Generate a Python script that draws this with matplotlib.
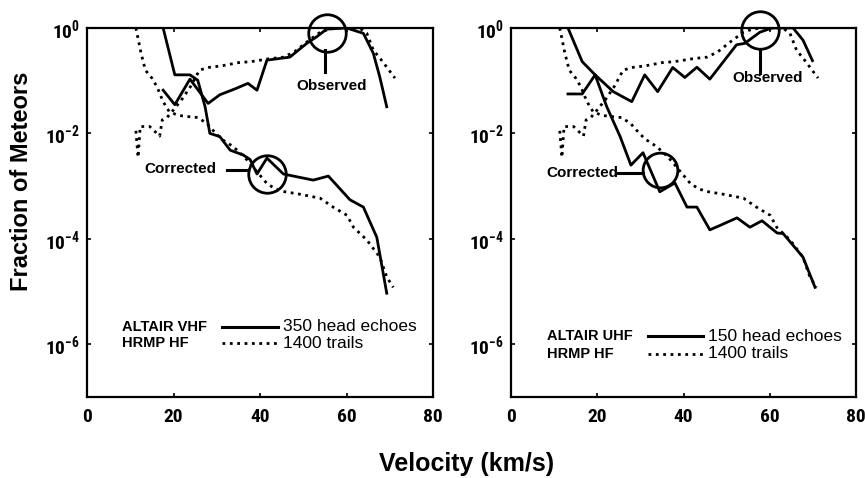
import matplotlib
matplotlib.use("Agg")
import matplotlib.pyplot as plt
from matplotlib import font_manager

# narrow bold font for the tick numbers if one is around, else plain bold
installed = {f.name for f in font_manager.fontManager.ttflist}
tick_font = "Liberation Sans"
for name in ["Liberation Sans Narrow", "DejaVu Sans Condensed", "Roboto Condensed"]:
    if name in installed:
        tick_font = name
        break

plt.rcParams["font.family"] = ["Liberation Sans", "DejaVu Sans"]
plt.rcParams["mathtext.fontset"] = "custom"
plt.rcParams["mathtext.rm"] = tick_font + ":bold"
plt.rcParams["mathtext.it"] = tick_font + ":bold"
plt.rcParams["mathtext.bf"] = tick_font + ":bold"

# ---- data (velocity km/s, fraction of meteors) ----
# HRMP HF, 1400 trails (same curves in both panels)
trail_obs_v = [11.3, 11.8, 12.3, 14.5, 16.8, 17.4, 18.5, 20.0, 22.0, 24.0, 26.0, 28.0,
               31.0, 35.0, 38.0, 42.0, 45.5, 48.0, 50.8, 53.9, 56.0, 58.0, 63.0,
               64.7, 66.2, 68.0, 71.2]
trail_obs = [0.0112, 0.0035, 0.0135, 0.0135, 0.0089, 0.018, 0.02, 0.028, 0.045, 0.079,
             0.158, 0.178, 0.19, 0.22, 0.23, 0.26, 0.28, 0.355, 0.54, 0.83, 0.95,
             1.0, 1.0, 0.79, 0.38, 0.25, 0.112]

trail_cor_v = [11.3, 12.5, 13.5, 15.0, 16.2, 17.6, 19.0, 21.0, 23.0, 25.6, 27.7, 29.1,
               31.0, 33.8, 36.5, 39.0, 41.6, 43.5, 45.4, 49.3, 53.9, 56.9, 60.1,
               61.6, 64.7, 67.7, 69.3, 70.8]
trail_cor = [1.0, 0.33, 0.158, 0.112, 0.076, 0.04, 0.026, 0.022, 0.021, 0.02, 0.0155,
             0.0115, 0.0079, 0.0056, 0.0035, 0.002, 0.00112, 0.00089, 0.00079, 0.0007,
             0.00059, 0.0004, 0.00028, 0.000166, 9.5e-5, 4.5e-5, 1.9e-5, 1.2e-5]

# ALTAIR VHF, 350 head echoes
vhf_obs_v = [17.6, 20.3, 23.8, 28.0, 30.7, 34.6, 37.2, 39.3, 41.6, 46.9, 50.8, 53.1,
             55.4, 60.0, 63.9, 66.2, 67.7, 69.3]
vhf_obs = [0.066, 0.035, 0.107, 0.037, 0.054, 0.072, 0.089, 0.066, 0.245, 0.28, 0.51,
           0.68, 0.95, 1.0, 0.79, 0.33, 0.117, 0.032]

vhf_cor_v = [17.6, 20.3, 23.8, 25.6, 27.3, 28.4, 30.7, 33.1, 36.1, 37.7, 39.3, 41.6,
             45.4, 46.9, 52.3, 55.8, 60.8, 63.9, 67.0, 69.3]
vhf_cor = [1.0, 0.129, 0.129, 0.102, 0.032, 0.01, 0.0087, 0.0048, 0.0039, 0.0032,
           0.0017, 0.0034, 0.0017, 0.0016, 0.0013, 0.00155, 0.00055, 0.0004,
           0.000107, 9.3e-6]

# ALTAIR UHF, 150 head echoes
uhf_obs_v = [13.2, 16.5, 19.5, 23.7, 28.0, 31.0, 34.0, 37.5, 40.3, 43.1, 46.1, 52.3,
             54.2, 57.7, 60.5, 65.4, 67.7, 69.9]
uhf_obs = [0.056, 0.056, 0.129, 0.062, 0.04, 0.129, 0.062, 0.178, 0.115, 0.18, 0.107,
           0.48, 0.51, 0.83, 1.0, 1.0, 0.59, 0.24]

uhf_cor_v = [13.2, 16.5, 19.5, 22.2, 25.3, 27.8, 30.6, 34.5, 38.0, 40.8, 43.1, 46.1,
             48.5, 52.4, 55.4, 58.2, 61.7, 63.1, 67.7, 70.5]
uhf_cor = [1.0, 0.23, 0.129, 0.032, 0.0087, 0.0025, 0.0043, 0.00078, 0.00115, 0.0004,
           0.0004, 0.000148, 0.00018, 0.00025, 0.000166, 0.00022, 0.000129,
           0.000126, 4.5e-5, 1.2e-5]

xticks = [0, 20, 40, 60, 80]
yticks = [1, 1e-2, 1e-4, 1e-6]
ytick_labels = [r"$10^{0}$", r"$10^{-2}$", r"$10^{-4}$", r"$10^{-6}$"]

radar_names = ["ALTAIR VHF", "ALTAIR UHF"]
echo_labels = ["350 head echoes", "150 head echoes"]
trail_label = "1400 trails"

fig = plt.figure(figsize=(8.65, 4.78), dpi=100)
ax1 = fig.add_axes([0.1006, 0.1695, 0.400, 0.772])
ax2 = fig.add_axes([0.5908, 0.1695, 0.3988, 0.772])

panels = [
    (ax1, vhf_obs_v, vhf_obs, vhf_cor_v, vhf_cor),
    (ax2, uhf_obs_v, uhf_obs, uhf_cor_v, uhf_cor),
]

for i, (ax, ov, o, cv, c) in enumerate(panels):
    ax.plot(trail_obs_v, trail_obs, color="k", ls=":", lw=2)
    ax.plot(trail_cor_v, trail_cor, color="k", ls=":", lw=2)
    ax.plot(ov, o, color="k", lw=2)
    ax.plot(cv, c, color="k", lw=2)

    ax.set_yscale("log")
    ax.set_xlim(0, 80)
    ax.set_ylim(1e-7, 1)
    ax.set_xticks(xticks)
    ax.set_yticks(yticks)
    ax.set_yticklabels(ytick_labels)
    ax.minorticks_off()
    ax.tick_params(direction="in", top=True, right=True, length=3, width=1.2)
    ax.tick_params(axis="x", pad=8, labelsize=14)
    ax.tick_params(axis="y", pad=5, labelsize=14)
    for lab in ax.get_xticklabels():
        lab.set_fontfamily(tick_font)
        lab.set_fontweight("bold")
    for sp in ax.spines.values():
        sp.set_linewidth(1.6)

    # legend drawn by hand like the original
    if i == 0:
        ly1, ly2 = 0.19, 0.146
        lx0, lx1, tx = 0.39, 0.552, 0.566
        nx = 0.101
    else:
        ly1, ly2 = 0.165, 0.117
        lx0, lx1, tx = 0.397, 0.557, 0.571
        nx = 0.104
    ax.text(nx, ly1, radar_names[i], transform=ax.transAxes, fontsize=10.5,
            fontweight="bold", va="center")
    ax.text(nx, ly2, "HRMP HF", transform=ax.transAxes, fontsize=10.5,
            fontweight="bold", va="center")
    ax.plot([lx0, lx1], [ly1, ly1], color="k", lw=2.2, transform=ax.transAxes)
    ax.plot([lx0, lx1], [ly2, ly2], color="k", lw=2, ls=":", transform=ax.transAxes)
    ax.text(tx, ly1, echo_labels[i], transform=ax.transAxes, fontsize=12.5,
            va="center")
    ax.text(tx, ly2, trail_label, transform=ax.transAxes, fontsize=12.5,
            va="center")

# circles + pointers
def callout(ax, center, ms, px, py, label, lxy):
    ax.plot([center[0]], [center[1]], "o", ms=ms, mfc="none", mec="k", mew=2,
            clip_on=False)
    ax.plot(px, py, color="k", lw=2.2)
    ax.text(lxy[0], lxy[1], label, ha="center", va="center", fontsize=11,
            fontweight="bold")

callout(ax1, (55.5, 0.79), 27, [55.1, 55.1], [0.38, 0.145], "Observed", (56.6, 0.079))
callout(ax1, (41.6, 0.0017), 27, [32.4, 37.2], [0.002, 0.002], "Corrected", (21.5, 0.0021))
callout(ax2, (57.7, 0.91), 27, [57.7, 57.7], [0.38, 0.14], "Observed", (59.4, 0.112))
callout(ax2, (34.5, 0.002), 25, [24.8, 30.6], [0.0018, 0.0018], "Corrected", (16.5, 0.0018))

fig.text(0.025, 0.621, "Fraction of Meteors", rotation=90, ha="center", va="center",
         fontsize=17, fontweight="bold")
fig.text(0.539, 0.029, "Velocity (km/s)", ha="center", va="center",
         fontsize=18, fontweight="bold")

fig.savefig("out.png", dpi=100)
